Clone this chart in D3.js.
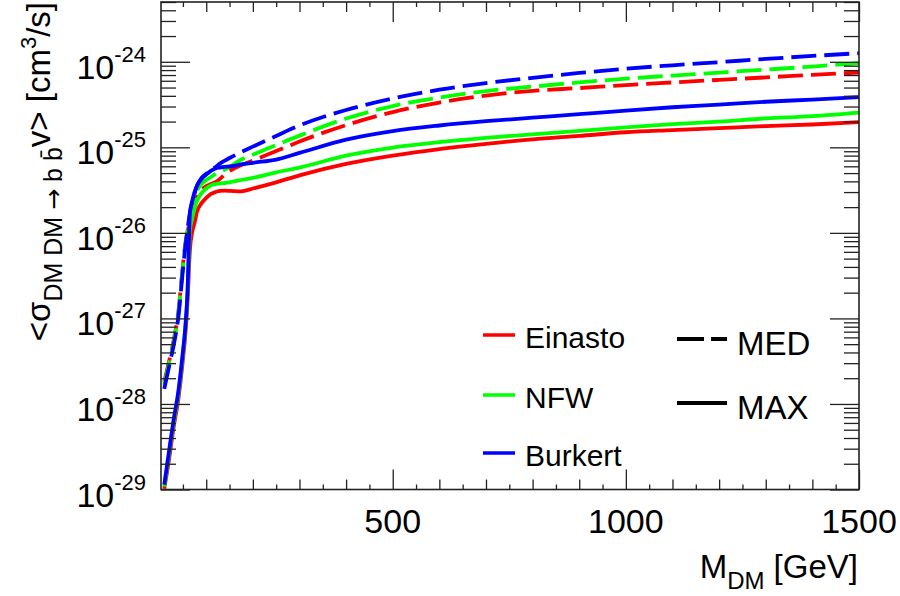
<!DOCTYPE html>
<html>
<head>
<meta charset="utf-8">
<script src="https://cdn.jsdelivr.net/npm/d3@7"></script>
<style>
  html, body { margin: 0; padding: 0; background: #fff; }
  svg { display: block; }
  text { font-family: "Liberation Sans", Arial, Helvetica, sans-serif; fill: #000; }
</style>
</head>
<body>
<svg id="chart" width="900" height="596"></svg>
<script>
// Dark-matter mass grid [GeV]
const masses = [10, 20, 30, 40, 50, 55, 60, 65, 70, 75,
                80, 90, 100, 110, 120, 130, 140, 150, 175, 200,
                250, 300, 400, 500, 600, 700, 800, 900, 1000, 1100,
                1200, 1300, 1400, 1500];

// <sigma v> upper limits [cm^3/s], MED halo configuration
const einastoMed = [1.81e-28, 3.1e-28, 5.5e-28, 1.16e-27, 4.2e-27, 7.4e-27, 1.03e-26, 1.42e-26, 1.85e-26, 2.23e-26,
                    2.63e-26, 3.17e-26, 3.53e-26, 3.72e-26, 3.93e-26, 4.3e-26, 4.8e-26, 5.3e-26, 6.2e-26, 7.0e-26,
                    9.05e-26, 1.17e-25, 1.82e-25, 2.58e-25, 3.34e-25, 4.03e-25, 4.58e-25, 4.93e-25, 5.34e-25, 5.74e-25,
                    6.15e-25, 6.57e-25, 7.03e-25, 7.5e-25];
const nfwMed = [1.67e-28, 2.94e-28, 5.2e-28, 1.10e-27, 4.0e-27, 7.0e-27, 1.11e-26, 1.58e-26, 2.1e-26, 2.6e-26,
                3.09e-26, 3.72e-26, 4.15e-26, 4.5e-26, 4.9e-26, 5.2e-26, 5.5e-26, 5.9e-26, 7.2e-26, 8.2e-26,
                1.06e-25, 1.37e-25, 2.17e-25, 3.04e-25, 3.82e-25, 4.55e-25, 5.13e-25, 5.74e-25, 6.35e-25, 6.9e-25,
                7.48e-25, 8.1e-25, 8.8e-25, 9.66e-25];
const burkertMed = [1.5e-28, 2.7e-28, 4.8e-28, 1.01e-27, 3.7e-27, 6.7e-27, 1.11e-26, 1.71e-26, 2.3e-26, 2.9e-26,
                    3.53e-26, 4.38e-26, 4.9e-26, 5.4e-26, 5.9e-26, 6.5e-26, 7.0e-26, 7.5e-26, 8.8e-26, 1.02e-25,
                    1.36e-25, 1.80e-25, 2.73e-25, 3.72e-25, 4.72e-25, 5.64e-25, 6.5e-25, 7.4e-25, 8.3e-25, 9.1e-25,
                    9.9e-25, 1.08e-24, 1.17e-24, 1.26e-24];

// <sigma v> upper limits [cm^3/s], MAX halo configuration
const einastoMax = [1.02e-29, 2.2e-29, 5.3e-29, 1.12e-28, 3.3e-28, 6.3e-28, 1.64e-27, 6.3e-27, 1.03e-26, 1.31e-26,
                    1.75e-26, 2.23e-26, 2.56e-26, 2.85e-26, 3.0e-26, 3.1e-26, 3.11e-26, 3.1e-26, 3.06e-26, 3.3e-26,
                    3.9e-26, 4.7e-26, 6.4e-26, 8.0e-26, 9.55e-26, 1.10e-25, 1.24e-25, 1.36e-25, 1.50e-25, 1.59e-25,
                    1.68e-25, 1.77e-25, 1.85e-25, 1.97e-25];
const nfwMax = [1.08e-29, 2.54e-29, 6.0e-29, 1.28e-28, 3.85e-28, 7.3e-28, 1.99e-27, 1.08e-26, 1.49e-26, 1.95e-26,
                2.36e-26, 2.92e-26, 3.3e-26, 3.58e-26, 3.72e-26, 3.8e-26, 3.83e-26, 3.9e-26, 4.15e-26, 4.4e-26,
                5.1e-26, 5.8e-26, 8.0e-26, 9.95e-26, 1.15e-25, 1.29e-25, 1.42e-25, 1.56e-25, 1.71e-25, 1.87e-25,
                2.0e-25, 2.18e-25, 2.32e-25, 2.55e-25];
const burkertMax = [1.14e-29, 2.75e-29, 6.5e-29, 1.38e-28, 4.1e-28, 7.7e-28, 2.15e-27, 1.71e-26, 2.36e-26, 3.0e-26,
                    3.53e-26, 4.26e-26, 4.8e-26, 5.3e-26, 5.65e-26, 5.8e-26, 5.9e-26, 5.97e-26, 6.3e-26, 6.6e-26,
                    7.2e-26, 8.6e-26, 1.23e-25, 1.55e-25, 1.80e-25, 2.02e-25, 2.22e-25, 2.44e-25, 2.69e-25, 2.94e-25,
                    3.16e-25, 3.41e-25, 3.62e-25, 3.87e-25];

// Axis labelling
const xTickLabels = [500, 1000, 1500];
const yDecades = [-29, -28, -27, -26, -25, -24];
const profileNames = ["Einasto", "NFW", "Burkert"];
const profileColors = ["#ff0000", "#00ff00", "#0000ff"];
const styleNames = ["MED", "MAX"];

// ---- layout ----
const plot = { left: 161, right: 859, top: 2, bottom: 489.5 };
const DASH = "25,8";
const LW = 3.8;

const x = d3.scaleLinear().domain([3, 1500]).range([plot.left, plot.right]);
const y = d3.scaleLog().domain([1e-29, 5e-24]).range([plot.bottom, plot.top]);

const svg = d3.select("#chart");
svg.append("rect").attr("width", 900).attr("height", 596).attr("fill", "#fff");

svg.append("defs").append("clipPath").attr("id", "plotClip")
  .append("rect")
  .attr("x", plot.left).attr("y", plot.top)
  .attr("width", plot.right - plot.left).attr("height", plot.bottom - plot.top);

// ---- curves ----
const medSets = [einastoMed, nfwMed, burkertMed];
const maxSets = [einastoMax, nfwMax, burkertMax];

const line = d3.line()
  .x((d, i) => x(masses[i]))
  .y(d => y(d))
  .curve(d3.curveMonotoneX);

const curves = svg.append("g").attr("clip-path", "url(#plotClip)");
medSets.forEach((vals, k) => {
  curves.append("path").datum(vals)
    .attr("d", line).attr("fill", "none")
    .attr("stroke", profileColors[k]).attr("stroke-width", LW)
    .attr("stroke-dasharray", DASH);
});
maxSets.forEach((vals, k) => {
  curves.append("path").datum(vals)
    .attr("d", line).attr("fill", "none")
    .attr("stroke", profileColors[k]).attr("stroke-width", LW);
});

// ---- tick marks on all four sides, pointing inward ----
const tickColor = "#222";
function tickGroup(axis, tx, ty) {
  const g = svg.append("g").attr("transform", `translate(${tx},${ty})`).call(axis);
  g.select(".domain").remove();
  g.selectAll(".tick text").remove();
  g.selectAll(".tick line").attr("stroke", tickColor).attr("stroke-width", 1.3);
  return g;
}

const xAll = d3.range(50, 1501, 50);
const xMajor = xAll.filter(v => v % 500 === 0);
const xMid = xAll.filter(v => v % 500 !== 0 && v % 100 === 0);
const xMinor = xAll.filter(v => v % 100 !== 0);
[[xMajor, 20], [xMid, 10], [xMinor, 5]].forEach(([vals, len]) => {
  tickGroup(d3.axisBottom(x).tickValues(vals).tickSize(-len).tickFormat(""), 0, plot.bottom);
  tickGroup(d3.axisTop(x).tickValues(vals).tickSize(-len).tickFormat(""), 0, plot.top);
});

const yMajor = yDecades.map(e => Math.pow(10, e));
const yMinor = [];
yDecades.forEach(e => {
  for (let k = 2; k <= 9; k++) {
    const v = k * Math.pow(10, e);
    if (v <= 5.0001e-24) yMinor.push(v);
  }
});
[[yMajor, 29], [yMinor, 15]].forEach(([vals, len]) => {
  tickGroup(d3.axisLeft(y).tickValues(vals).tickSize(-len).tickFormat(""), plot.left, 0);
  tickGroup(d3.axisRight(y).tickValues(vals).tickSize(-len).tickFormat(""), plot.right, 0);
});

// frame
svg.append("rect")
  .attr("x", plot.left).attr("y", plot.top)
  .attr("width", plot.right - plot.left).attr("height", plot.bottom - plot.top)
  .attr("fill", "none").attr("stroke", "#222").attr("stroke-width", 1.6);

// ---- tick labels ----
svg.append("g").selectAll("text").data(xTickLabels).join("text")
  .attr("x", d => x(d)).attr("y", 533)
  .attr("text-anchor", "middle").attr("font-size", 34)
  .text(d => d);

const yl = svg.append("g").selectAll("text").data(yDecades).join("text")
  .attr("x", 146).attr("y", d => y(Math.pow(10, d)) + 17)
  .attr("text-anchor", "end").attr("font-size", 34);
yl.append("tspan").text("10");
yl.append("tspan").attr("font-size", 22).attr("dy", -17).text(d => String(d));

// ---- axis titles ----
const xt = svg.append("text").attr("x", 858).attr("y", 578)
  .attr("text-anchor", "end").attr("font-size", 33);
xt.append("tspan").text("M");
xt.append("tspan").attr("font-size", 24).attr("dy", 11).text("DM");
xt.append("tspan").attr("dy", -11).text(" [GeV]");

const ytl = svg.append("text")
  .attr("transform", "translate(50,2) rotate(-90)")
  .attr("text-anchor", "end").attr("font-size", 33);
ytl.append("tspan").text("<σ");
ytl.append("tspan").attr("font-size", 25).attr("dy", 12).text("DM DM ");
ytl.append("tspan").attr("font-size", 25).style("font-family", "'DejaVu Sans', sans-serif").text("\u2192");
ytl.append("tspan").attr("font-size", 25).text(" b b\u0304");
ytl.append("tspan").attr("dy", -12).text("v> [cm");
ytl.append("tspan").attr("font-size", 22).attr("dy", -14).text("3");
ytl.append("tspan").attr("dy", 14).text("/s]");

// ---- legend ----
const legRows = [335, 395, 453];
const leg = svg.append("g");
profileNames.forEach((name, k) => {
  leg.append("line").attr("x1", 483).attr("x2", 515)
    .attr("y1", legRows[k]).attr("y2", legRows[k])
    .attr("stroke", profileColors[k]).attr("stroke-width", 3.5);
  leg.append("text").attr("x", 525).attr("y", legRows[k] + 13)
    .attr("font-size", 30).text(name);
});
const styleRows = [339, 403];
styleNames.forEach((name, k) => {
  const l = leg.append("line").attr("x1", 677).attr("x2", 727)
    .attr("y1", styleRows[k]).attr("y2", styleRows[k])
    .attr("stroke", "#000").attr("stroke-width", 4);
  if (k === 0) l.attr("stroke-dasharray", "27,7");
  leg.append("text").attr("x", 737).attr("y", styleRows[k] + 16)
    .attr("font-size", 33).text(name);
});
</script>
</body>
</html>
